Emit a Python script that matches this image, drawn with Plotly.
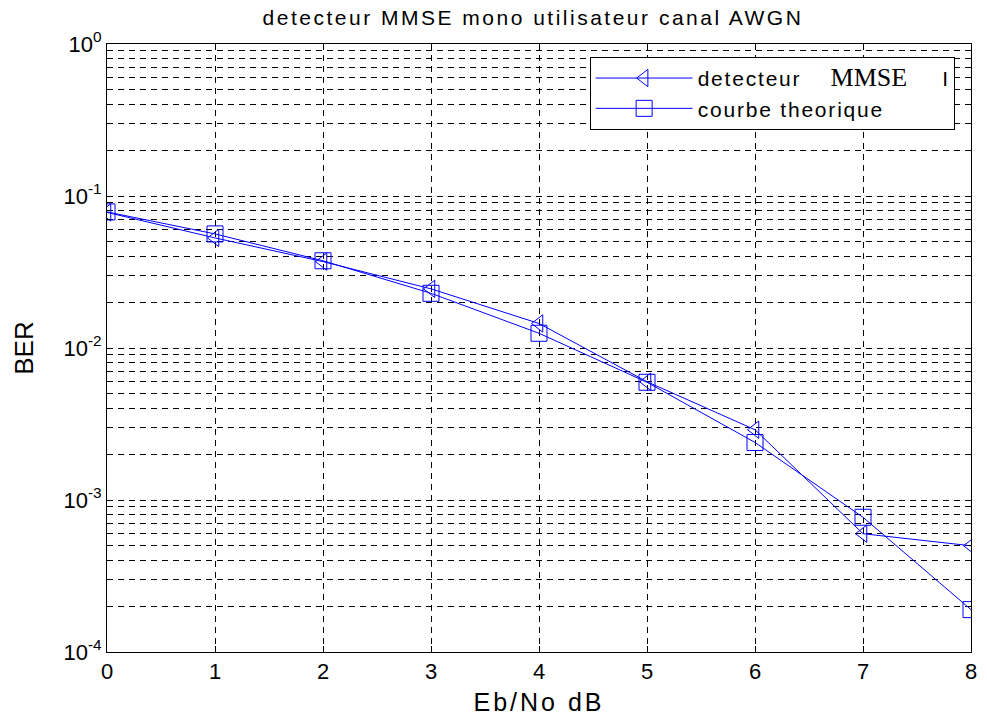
import plotly.graph_objects as go

ebno = [0, 1, 2, 3, 4, 5, 6, 7, 8]
ber_mmse = [0.078, 0.053, 0.037, 0.0245, 0.0145, 0.0060, 0.0029, 0.00060, 0.00050]
ber_theo = [0.0786, 0.0563, 0.0375, 0.0229, 0.0125, 0.00595, 0.00239, 0.00077, 0.00019]
ytick_vals = [1e-4, 1e-3, 1e-2, 1e-1, 1]
ytick_text = ["10<sup>-4</sup>", "10<sup>-3</sup>", "10<sup>-2</sup>", "10<sup>-1</sup>", "10<sup>0</sup>"]
xtick_vals = [0, 1, 2, 3, 4, 5, 6, 7, 8]

blue = "rgb(0,0,255)"
font = "Liberation Sans, Arial, sans-serif"
serif = "Liberation Serif, Times New Roman, serif"


def spaced(txt, px):
    return '<span style="letter-spacing:%spx">%s</span>' % (px, txt)


name1 = (spaced("detecteur", 1.8) + "     "
         + '<span style="font-family:%s;font-size:26px">MMSE</span>' % serif
         + "      I")
name2 = spaced("courbe theorique", 1.8)

fig = go.Figure()
fig.add_trace(go.Scatter(
    x=ebno, y=ber_mmse, mode="lines+markers", name=name1,
    line=dict(color=blue, width=1),
    marker=dict(symbol="triangle-left-open", size=15, color=blue, line=dict(width=1, color=blue)),
))
fig.add_trace(go.Scatter(
    x=ebno, y=ber_theo, mode="lines+markers", name=name2,
    line=dict(color=blue, width=1),
    marker=dict(symbol="square-open", size=16, color=blue, line=dict(width=1, color=blue)),
))

grid = dict(gridcolor="black", griddash="6px,5px", gridwidth=1)

fig.update_layout(
    width=987, height=722,
    margin=dict(l=107, r=10, t=44, b=65),
    paper_bgcolor="white", plot_bgcolor="white",
    font=dict(family=font, size=21, color="black"),
    title=dict(text=spaced("detecteur MMSE mono utilisateur canal AWGN", 2.5),
               xref="paper", x=0.493, xanchor="center",
               yref="container", y=0.976, yanchor="middle", font=dict(size=21)),
    legend=dict(x=0.5586, y=0.9788, xanchor="left", yanchor="top",
                bgcolor="white", bordercolor="black", borderwidth=1,
                font=dict(size=21), tracegroupgap=0, itemwidth=97),
    showlegend=True,
)
fig.update_xaxes(
    range=[0, 8], tickvals=xtick_vals, showline=True, linecolor="black", linewidth=1,
    mirror="ticks", ticks="inside", ticklen=6, tickcolor="black",
    title=dict(text=spaced("Eb/No dB", 3), font=dict(size=25), standoff=10),
    tickfont=dict(size=22), zeroline=False, showgrid=True, **grid,
)
fig.update_yaxes(
    type="log", range=[-4, 0], tickvals=ytick_vals, ticktext=ytick_text,
    showline=True, linecolor="black", linewidth=1,
    mirror="ticks", ticks="inside", ticklen=6, tickcolor="black",
    title=dict(text="BER", font=dict(size=26), standoff=22),
    tickfont=dict(size=22), zeroline=False, showgrid=True, **grid,
    minor=dict(dtick="D1", showgrid=True, ticks="inside", ticklen=3, tickcolor="black",
               gridcolor="black", griddash="6px,5px", gridwidth=1),
)

fig.write_html("out.html", config={"displayModeBar": False},
               post_script="document.body.style.margin='0px';document.body.style.overflow='hidden';")
